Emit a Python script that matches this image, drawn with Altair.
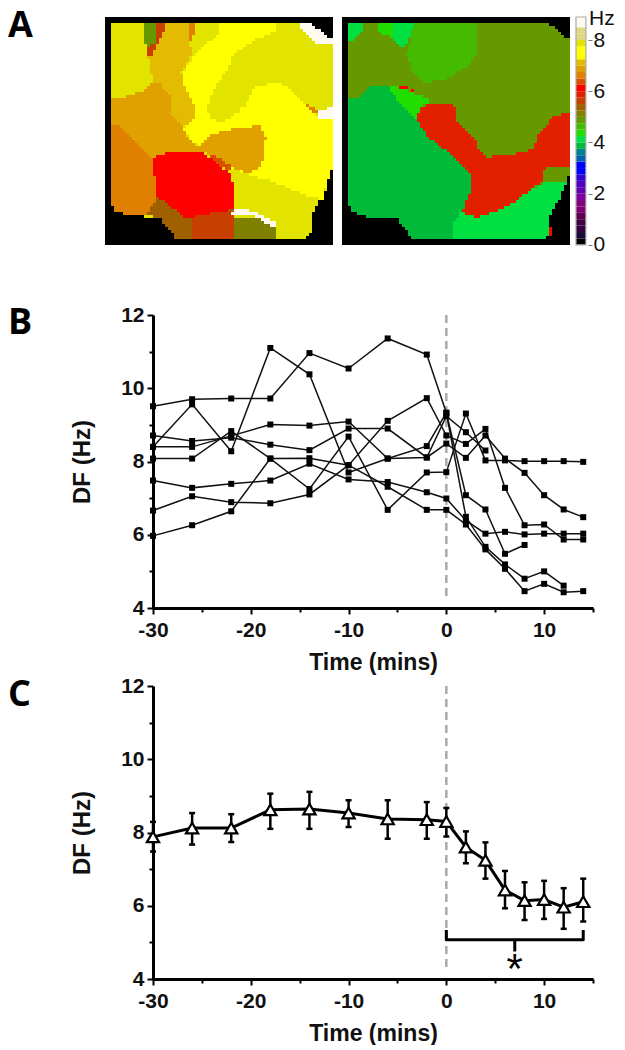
import altair as alt
import pandas as pd

# ---------- Panel A: colour levels (0.25 Hz steps) ----------
LEVEL_COLORS = ["#000000","#1a0a3c","#300040","#400040","#600050","#800070","#800080","#8000a0",
                "#6000b0","#5000c0","#3000d0","#0000ff","#0000ff","#0060b0","#008090","#00bb3a",
                "#00e040","#22dd00","#44bb00","#669900","#808000","#a06000","#c84000","#e22000",
                "#ff0000","#d85000","#e08000","#e0a000","#e3bb00","#ffff00","#ffff00","#e3e300",
                "#e0d880","#e0d880","#fffaf0","#fffaf0"]
LEVEL_LOW = [k / 4 for k in range(36)]
LEVEL_HIGH = [min((k + 1) / 4, 8.9) for k in range(36)]

WHITE, DYEL, YEL, AMB, ORG2, ORG, ORED, RED, RED2, CRED, BRN, OLV = 34, 31, 29, 28, 27, 26, 25, 24, 23, 22, 21, 20
OGRN, GRN, LIME, MINT, MGRN = 19, 18, 17, 16, 15

# regions of each map: level, outline in image units, painted in order
MAP1_REGIONS = [
    (DYEL, [(33,35),(635,35),(700,85),(700,480),(690,500),(680,540),(660,575),(645,600),(635,625),(640,660),(615,688),(230,688),(178,620),(85,618),(40,600),(33,575)]),
    (BRN, [(165,550),(400,550),(400,688),(230,688),(178,620),(135,618)]),
    (YEL, [(358,35),(530,35),(530,60),(470,85),(400,130),(385,175),(340,240),(325,290),(330,320),(360,338),(400,320),(440,280),(465,230),(530,215),(560,225),(615,275),(660,320),(700,325),(700,475),(690,500),(672,570),(620,555),(510,510),(440,490),(400,475),(330,420),(305,405),(280,395),(250,355),(290,320),(285,290),(245,210),(250,185),(290,125),(358,68)]),
    (AMB, [(195,35),(265,35),(265,85),(278,125),(245,185),(248,210),(290,295),(288,325),(250,350),(215,315),(212,260),(180,215),(160,212),(145,135),(160,110),(195,60)]),
    (OGRN, [(135,35),(170,35),(170,90),(145,110),(135,100)]),
    (CRED, [(170,35),(195,35),(195,60),(178,90),(155,135),(145,135),(145,112),(170,90)]),
    (ORG, [(265,35),(290,35),(288,60),(275,85),(265,85)]),
    (ORG2, [(33,258),(75,258),(130,240),(160,215),(180,215),(212,260),(215,315),(250,350),(265,385),(290,405),(305,405),(330,375),(400,355),(480,345),(500,380),(495,430),(485,470),(445,490),(395,470),(390,475),(330,430),(260,422),(175,435),(160,445),(100,385),(55,345),(33,345)]),
    (ORG, [(33,345),(55,345),(100,385),(160,445),(162,490),(170,520),(170,570),(135,618),(85,618),(40,600),(33,575)]),
    (RED, [(175,435),(215,422),(300,422),(345,450),(390,490),(400,520),(400,600),(370,602),(285,620),(260,628),(215,590),(172,560),(170,515),(162,490),(160,450)]),
    (ORED, [(320,430),(345,432),(395,465),(390,485),(350,455)]),
    (CRED, [(280,625),(285,620),(370,602),(400,602),(400,688),(280,688)]),
    (OLV, [(400,625),(465,620),(510,640),(530,655),(530,688),(400,688)]),
    (WHITE, [(395,605),(410,592),(470,605),(530,635),(530,655),(465,618),(400,612)]),
    (WHITE, [(655,310),(665,295),(700,292),(700,328),(660,325)]),
    (ORG, [(618,277),(640,290),(658,300),(655,310),(640,305)]),
    (WHITE, [(605,35),(635,35),(700,85),(700,103),(660,100),(610,60)]),
]
MAP2_REGIONS = [
    (OGRN, [(30,33),(635,33),(700,85),(702,470),(692,510),(670,560),(645,600),(635,625),(640,670),(615,688),(228,688),(178,622),(85,618),(40,600),(30,575)]),
    (GRN, [(218,35),(418,35),(418,125),(390,165),(320,205),(260,212),(225,175),(205,130),(215,100),(225,60)]),
    (MINT, [(30,33),(72,33),(72,60),(50,83),(30,83)]),
    (LIME, [(125,33),(168,33),(168,75),(135,72),(125,60)]),
    (MINT, [(168,33),(228,33),(218,80),(195,108),(170,85)]),
    (MGRN, [(30,258),(65,258),(100,222),(150,222),(175,262),(235,322),(270,375),(330,420),(390,475),(400,490),(398,550),(385,590),(350,630),(348,688),(228,688),(178,622),(85,618),(40,600),(30,575)]),
    (LIME, [(150,222),(185,222),(210,235),(280,268),(255,285),(235,320),(175,262)]),
    (RED, [(185,222),(210,225),(228,238),(210,235),(185,230)]),
    (RED2, [(280,275),(340,275),(358,295),(360,330),(415,385),(420,410),(445,438),(505,432),(555,425),(590,410),(605,370),(655,310),(700,308),(700,472),(625,465),(615,515),(580,535),(540,570),(470,605),(415,620),(385,610),(375,598),(398,550),(400,490),(390,475),(330,420),(270,375),(235,322),(255,285)]),
    (OGRN, [(625,465),(700,472),(692,510),(640,515),(617,515)]),
    (MINT, [(350,630),(375,600),(385,610),(415,620),(470,605),(540,570),(580,535),(615,518),(692,510),(670,560),(645,600),(635,625),(640,670),(615,688),(348,688)]),
    (RED, [(633,645),(642,645),(642,672),(633,672)]),
]
GRID = 76
PANEL_CELLS_X = [16, 161]
PANEL_HEIGHT = 286
PANEL_CELLS_Y = PANEL_HEIGHT / 3
MAP2_SHIFT = 79

# ---------- Panel B ----------
TIME = [-30,-26,-22,-18,-14,-10,-6,-2,0,2,4,6,8,10,12,14]
S1 = [9.51,9.70,9.72,9.72,10.96,10.54,11.36,10.92,9.33,6.49,5.67,5.19,4.80,5.00,4.61,None]
S2 = [8.40,9.56,8.28,11.10,10.38,7.70,8.08,8.42,9.33,7.08,6.69,5.48,5.72,None,None,None]
S3 = [8.71,8.56,8.65,8.46,8.31,8.90,8.90,8.11,8.49,8.10,8.71,8.08,7.69,7.08,6.69,6.48]
S4 = [8.40,8.40,8.70,9.01,8.98,9.09,8.08,8.11,9.24,8.80,8.30,None,None,None,None,None]
S5 = [8.08,8.08,8.83,8.08,7.25,8.68,6.68,7.70,7.71,9.31,8.03,8.03,8.01,8.01,8.01,7.99]
S6 = [7.48,7.28,7.39,7.48,7.94,7.51,7.44,7.16,6.99,6.39,6.03,6.08,6.01,6.03,6.03,6.03]
S7 = [6.66,7.05,6.89,6.86,7.10,7.90,9.11,9.73,8.71,8.48,8.89,7.28,6.26,6.28,5.87,5.87]
S8 = [5.97,6.26,6.64,8.08,8.09,7.90,7.31,6.68,6.68,6.28,5.60,5.07,4.46,4.66,4.43,4.46]
SERIES = [S1,S2,S3,S4,S5,S6,S7,S8]

# ---------- Panel C ----------
MEAN = [7.88,8.12,8.12,8.62,8.64,8.53,8.37,8.35,8.30,7.60,7.24,6.43,6.14,6.17,5.96,6.11]
ERR_HI = [8.29,8.53,8.50,9.06,9.11,8.88,8.88,8.83,8.67,8.03,7.73,6.95,6.64,6.68,6.48,6.74]
ERR_LO = [7.48,7.67,7.74,8.10,8.10,8.15,7.83,7.83,7.89,7.16,6.74,5.93,5.61,5.64,5.37,5.57]
BRACKET_X = [0,0,14,14]
BRACKET_Y = [5.34,5.07,5.07,5.34]
BRACKET_MID = [7, 5.07, 4.75]
STAR = [7, 4.38]

X_MAJOR = [-30,-20,-10,0,10]
X_MINOR = [-25,-15,-5,5,15]
Y_MAJOR = [4,6,8,10,12]
Y_MINOR = [5,7,9,11]
FONT = "Liberation Sans"
LETTER_FONT = "Open Sans"


def inside(poly, u, v):
    hit = False
    n = len(poly)
    for i in range(n):
        x1, y1 = poly[i]
        x2, y2 = poly[(i + 1) % n]
        if (y1 > v) != (y2 > v) and u < x1 + (v - y1) * (x2 - x1) / (y2 - y1):
            hit = not hit
    return hit


def map_rows(regions, ox, oy, shift):
    rows = []
    span = 688 / GRID
    for j in range(GRID):
        run_start, run_level = 0, None
        for i in range(GRID + 1):
            level = None
            if i < GRID:
                level = 0
                u, v = ox + (i + .5) * span, oy + (j + .5) * span
                for lev, poly in regions:
                    if inside(poly, u, v):
                        level = lev
            if level != run_level:
                if run_level is not None:
                    rows.append(dict(x=run_start + shift, x2=i + shift, y=j, y2=j + 1, level=run_level))
                run_start, run_level = i, level
    return rows


cells = pd.DataFrame(map_rows(MAP1_REGIONS, 15, 17, 0) + map_rows(MAP2_REGIONS, 12, 15, MAP2_SHIFT))
bar = pd.DataFrame(dict(level=list(range(36)), low=LEVEL_LOW, high=LEVEL_HIGH, x=[157.0] * 36, x2=[160.3] * 36))
color = alt.Color("level:O", scale=alt.Scale(domain=list(range(36)), range=LEVEL_COLORS), legend=None)
x_cells = alt.Scale(domain=PANEL_CELLS_X, nice=False)
y_cells = alt.Scale(domain=[PANEL_CELLS_Y, 0], nice=False)
hz_scale = alt.Scale(domain=[8.9 - PANEL_HEIGHT / 25.6, 8.9], nice=False)


def letter(t, y):
    return alt.Chart(pd.DataFrame({"t": [t]})).mark_text(
        align="left", baseline="alphabetic", font=LETTER_FONT, fontWeight="bold", fontSize=36
    ).encode(text="t:N", x=alt.value(-145), y=alt.value(y))


maps = alt.Chart(cells).mark_rect(strokeWidth=0).encode(
    x=alt.X("x:Q", scale=x_cells, axis=None), x2="x2:Q",
    y=alt.Y("y:Q", scale=y_cells, axis=None), y2="y2:Q", color=color)
bar_chart = alt.Chart(bar).mark_rect(strokeWidth=0).encode(
    x=alt.X("x:Q", scale=x_cells, axis=None), x2="x2:Q",
    y=alt.Y("low:Q", scale=hz_scale,
            axis=alt.Axis(orient="right", values=[0, 2, 4, 6, 8], title=None, domain=False, grid=False,
                          tickColor="#777777", tickSize=4, tickWidth=1, labelFont=FONT, labelFontSize=21,
                          labelPadding=1, labelColor="#111111", format="d")),
    y2="high:Q", color=color)
bar_frame = alt.Chart(pd.DataFrame(dict(x=[157.0], x2=[160.3], low=[0.0], high=[8.9]))).mark_rect(
    fill=None, stroke="#aaaaaa", strokeWidth=1.2).encode(
    x=alt.X("x:Q", scale=x_cells, axis=None), x2="x2:Q",
    y=alt.Y("low:Q", scale=hz_scale, axis=None), y2="high:Q")
hz = alt.Chart(pd.DataFrame({"t": ["Hz"]})).mark_text(
    align="left", baseline="alphabetic", font=FONT, fontSize=21, color="#111111"
).encode(text="t:N", x=alt.value(436), y=alt.value(8))

panel_a = alt.layer(maps, bar_chart, bar_frame, hz, letter("A", 20)).resolve_scale(y="independent").properties(
    width=435, height=PANEL_HEIGHT)


X_SCALE = alt.Scale(domain=[-30, 15], nice=False)
Y_SCALE = alt.Scale(domain=[4, 12], nice=False)
X_OFF = alt.X("t:Q", scale=X_SCALE, axis=None)
Y_OFF = alt.Y("v:Q", scale=Y_SCALE, axis=None)


def base_axes(df):
    major = alt.Chart(df).mark_point(opacity=0).encode(
        x=alt.X("t:Q", scale=X_SCALE,
                axis=alt.Axis(orient="bottom", values=X_MAJOR, title="Time (mins)", grid=False, domainWidth=3,
                              domainColor="black", tickColor="black", tickWidth=2, tickSize=6, labelFont=FONT,
                              labelFontWeight="bold", labelFontSize=21, labelColor="#111111", labelPadding=5,
                              labelExpr="'' + datum.value", titleFont=FONT, titleFontWeight="bold", titleFontSize=23,
                              titleColor="#111111", titlePadding=11, labelFlush=False)),
        y=alt.Y("v:Q", scale=Y_SCALE,
                axis=alt.Axis(orient="left", values=Y_MAJOR, title="DF (Hz)", grid=False, domainWidth=3,
                              domainColor="black", tickColor="black", tickWidth=2, tickSize=6, labelFont=FONT,
                              labelFontWeight="bold", labelFontSize=21, labelColor="#111111", labelPadding=3,
                              format="d", titleFont=FONT, titleFontWeight="bold", titleFontSize=24,
                              titleColor="#111111", titlePadding=26)))
    minor = alt.Chart(df).mark_point(opacity=0).encode(
        x=alt.X("t:Q", scale=X_SCALE,
                axis=alt.Axis(orient="bottom", values=X_MINOR, title=None, labels=False, domain=False, grid=False,
                              tickColor="black", tickWidth=2, tickSize=4)),
        y=alt.Y("v:Q", scale=Y_SCALE,
                axis=alt.Axis(orient="left", values=Y_MINOR, title=None, labels=False, domain=False, grid=False,
                              tickColor="black", tickWidth=2, tickSize=4)))
    return major, minor


def dashed():
    return alt.Chart(pd.DataFrame({"t": [0], "v": [12], "v2": [4.2]})).mark_rule(
        color="#aaaaaa", strokeWidth=2.5, strokeDash=[8, 5]).encode(x=X_OFF, y=Y_OFF, y2="v2:Q")


long_b = pd.DataFrame([dict(t=t, v=v, s=f"S{n}") for n, ser in enumerate(SERIES)
                       for t, v in zip(TIME, ser) if v is not None])
maj_b, min_b = base_axes(long_b)
lines_b = alt.Chart(long_b).mark_line(color="#111111", strokeWidth=1.5).encode(
    x=X_OFF, y=Y_OFF, detail="s:N", order="t:Q")
squares_b = alt.Chart(long_b).mark_square(color="black", size=36, opacity=1).encode(x=X_OFF, y=Y_OFF)
panel_b = alt.layer(maj_b, min_b, dashed(), lines_b, squares_b, letter("B", 19)).resolve_axis(
    x="independent", y="independent").properties(width=440, height=293)

c_df = pd.DataFrame(dict(t=TIME, v=MEAN, hi=ERR_HI, lo=ERR_LO))
maj_c, min_c = base_axes(c_df)
line_c = alt.Chart(c_df).mark_line(color="black", strokeWidth=3).encode(x=X_OFF, y=Y_OFF)
rule_c = alt.Chart(c_df).mark_rule(color="black", strokeWidth=2.5).encode(
    x=X_OFF, y=alt.Y("hi:Q", scale=Y_SCALE, axis=None), y2="lo:Q")
cap_hi = alt.Chart(c_df).mark_tick(color="black", thickness=2.5, size=6, orient="horizontal", opacity=1).encode(
    x=X_OFF, y=alt.Y("hi:Q", scale=Y_SCALE, axis=None))
cap_lo = alt.Chart(c_df).mark_tick(color="black", thickness=2.5, size=6, orient="horizontal", opacity=1).encode(
    x=X_OFF, y=alt.Y("lo:Q", scale=Y_SCALE, axis=None))
tri = alt.Chart(c_df).mark_point(shape="triangle-up", filled=True, fill="white", stroke="black", strokeWidth=2.2,
                                 size=150, opacity=1).encode(x=X_OFF, y=Y_OFF)
bracket = alt.Chart(pd.DataFrame(dict(t=BRACKET_X, v=BRACKET_Y, o=[0, 1, 2, 3]))).mark_line(
    color="black", strokeWidth=3, strokeJoin="round").encode(x=X_OFF, y=Y_OFF, order="o:Q")
bracket_mid = alt.Chart(pd.DataFrame(dict(t=[BRACKET_MID[0]], v=[BRACKET_MID[1]], v2=[BRACKET_MID[2]]))).mark_rule(
    color="black", strokeWidth=3).encode(x=X_OFF, y=Y_OFF, y2="v2:Q")
star = alt.Chart(pd.DataFrame(dict(t=[STAR[0]], v=[STAR[1]], s=["*"]))).mark_text(
    font=FONT, fontSize=42, dy=5, color="black").encode(x=X_OFF, y=Y_OFF, text="s:N")
panel_c = alt.layer(maj_c, min_c, dashed(), line_c, rule_c, cap_hi, cap_lo, tri, bracket, bracket_mid, star,
                    letter("C", 20)).resolve_axis(x="independent", y="independent").properties(
    width=440, height=293)

chart = alt.concat(panel_a, panel_b, panel_c, columns=1, spacing=1).properties(
    align="none", padding=0, background="white").configure_view(stroke=None)

chart.save("out.html", embed_options={"renderer": "svg", "actions": False})
